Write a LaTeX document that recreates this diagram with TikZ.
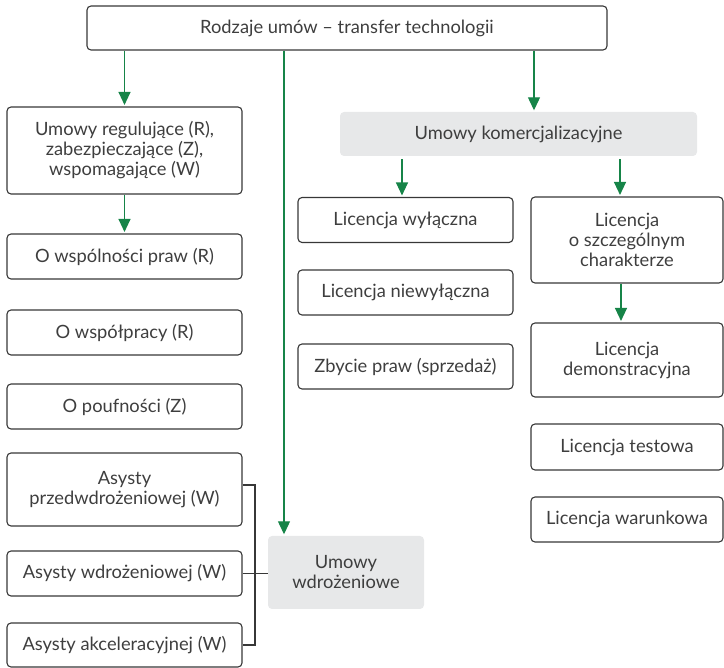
\documentclass[tikz,border=0pt]{standalone}
\usepackage{fontspec}
\setmainfont{Lato}
\usetikzlibrary{arrows.meta}
\definecolor{ink}{RGB}{62,62,62}
\definecolor{edge}{RGB}{55,55,55}
\definecolor{flow}{RGB}{22,132,72}
\definecolor{panel}{RGB}{231,232,233}
\begin{document}
\begin{tikzpicture}[x=1pt,y=-1pt,
  every node/.style={font=\fontsize{18.3}{20}\selectfont, text=ink, align=center, inner sep=0pt},
  box/.style={draw=edge, line width=1.1pt, rounded corners=4pt},
  grey/.style={fill=panel, rounded corners=4pt},
  arr/.style={draw=flow, line width=1.2pt, -{Triangle[length=13pt,width=12pt]}, shorten >=1.5pt},
  link/.style={draw=edge, line width=1.1pt}]
\useasboundingbox (0,0) rectangle (724,668);

% top level
\node[box, minimum width=520, minimum height=44] (top) at (347,28) {Rodzaje umów – transfer technologii};

% left column
\node[box, minimum width=235, minimum height=87] (ureg) at (124.5,150.5) {Umowy regulujące (R),\\zabezpieczające (Z),\\wspomagające (W)};
\node[box, minimum width=235, minimum height=45] (wsp) at (124.5,256.5) {O wspólności praw (R)};
\node[box, minimum width=235, minimum height=45] (wspol) at (124.5,332.5) {O współpracy (R)};
\node[box, minimum width=235, minimum height=45] (pouf) at (124.5,406.5) {O poufności (Z)};
\node[box, minimum width=235, minimum height=73] (przed) at (124.5,489.5) {Asysty\\przedwdrożeniowej (W)};
\node[box, minimum width=235, minimum height=45] (wdr) at (124.5,573.5) {Asysty wdrożeniowej (W)};
\node[box, minimum width=235, minimum height=44] (akc) at (124.5,645) {Asysty akceleracyjnej (W)};

% implementation agreements
\node[grey, minimum width=156, minimum height=73] (uwdr) at (346,572.5) {Umowy\\wdrożeniowe};

% commercialisation branch
\node[grey, minimum width=357, minimum height=44] (ukom) at (518.5,134) {Umowy komercjalizacyjne};
\node[box, minimum width=215, minimum height=45] (lwyl) at (405.5,220) {Licencja wyłączna};
\node[box, minimum width=215, minimum height=45] (lniew) at (405.5,292.5) {Licencja niewyłączna};
\node[box, minimum width=215, minimum height=45] (zbyc) at (405.5,366.5) {Zbycie praw (sprzedaż)};
\node[box, minimum width=192, minimum height=86] (lszcz) at (627,240) {Licencja\\o szczególnym\\charakterze};
\node[box, minimum width=192, minimum height=74] (ldem) at (627,360) {Licencja\\demonstracyjna};
\node[box, minimum width=192, minimum height=46] (ltest) at (627,447) {Licencja testowa};
\node[box, minimum width=192, minimum height=45] (lwar) at (627,519.5) {Licencja warunkowa};

% guide positions for the arrows
\coordinate (mx) at (284,0);
\coordinate (rx) at (534,0);
\coordinate (kx1) at (402,0);
\coordinate (kx2) at (620,0);
\coordinate (sx) at (621,0);
\coordinate (bx) at (255,0);

% arrows
\draw[arr] (top.south -| ureg.north) -- (ureg.north);
\draw[arr] (top.south -| mx) -- (uwdr.north -| mx);
\draw[arr] (top.south -| rx) -- (ukom.north -| rx);
\draw[arr] (ureg.south) -- (wsp.north);
\draw[arr, shorten <=3pt] (ukom.south -| kx1) -- (lwyl.north -| kx1);
\draw[arr, shorten <=3pt] (ukom.south -| kx2) -- (lszcz.north -| kx2);
\draw[arr] (lszcz.south -| sx) -- (ldem.north -| sx);

% bracket joining the assistance boxes
\draw[link] ([yshift=4.5pt]przed.east) -| (bx |- akc.east) -- (akc.east);
\draw[link] (wdr.east) -- (wdr.east -| uwdr.west);
\end{tikzpicture}
\end{document}
